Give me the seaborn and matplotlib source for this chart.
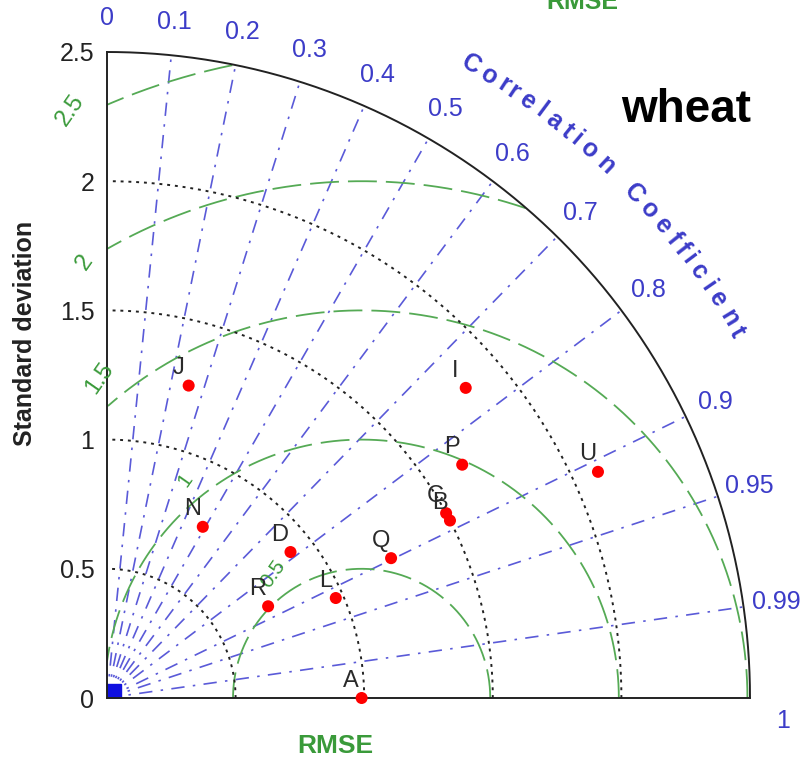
import numpy as np
import pandas as pd
import matplotlib
matplotlib.use("Agg")
import matplotlib.pyplot as plt
import seaborn as sns

# ---------------- data ----------------
models = ['A', 'B', 'C', 'D', 'I', 'J', 'L', 'N', 'P', 'Q', 'R', 'U']
std_dev = [0.99, 1.50, 1.50, 0.91, 1.84, 1.25, 0.97, 0.76, 1.65, 1.23, 0.72, 2.10]
corr_coef = [1.0, 0.889, 0.879, 0.784, 0.758, 0.254, 0.917, 0.490, 0.837, 0.898, 0.870, 0.909]
ref_std = 0.99
origin_std = [0.0]
origin_corr = [1.0]

std_ticks = [0, 0.5, 1, 1.5, 2, 2.5]
std_tick_labels = ['0', '0.5', '1', '1.5', '2', '2.5']
std_circles = [0.5, 1.0, 1.5, 2.0]
max_std = 2.5
corr_ticks = [0, 0.1, 0.2, 0.3, 0.4, 0.5, 0.6, 0.7, 0.8, 0.9, 0.95, 0.99, 1.0]
corr_tick_labels = ['0', '0.1', '0.2', '0.3', '0.4', '0.5', '0.6', '0.7', '0.8', '0.9', '0.95', '0.99', '1']
corr_lines = [0.1, 0.2, 0.3, 0.4, 0.5, 0.6, 0.7, 0.8, 0.9, 0.95, 0.99]
rmse_circles = [0.5, 1.0, 1.5, 2.0, 2.5]
rmse_labels = ['0.5', '1', '1.5', '2', '2.5']
title_text = 'wheat'

# ---------------- style ----------------
sns.set_theme(style="white")
plt.rcParams['font.family'] = ['Liberation Sans', 'DejaVu Sans']

BLUE = '#3c3cc8'
BLUE_LINE = '#5a5ad8'
GREEN = '#3a9a3a'
GREEN_LINE = '#55aa55'

fig = plt.figure(figsize=(8.04, 7.68), dpi=100)
ax = fig.add_axes([107 / 804, 70 / 768, 643 / 804, 646 / 768])
ax.set_xlim(0, max_std)
ax.set_ylim(0, max_std)

for s in ['top', 'right']:
    ax.spines[s].set_visible(False)
for s in ['left', 'bottom']:
    ax.spines[s].set_color('#222222')
    ax.spines[s].set_linewidth(1.4)
    ax.spines[s].set_zorder(6)

ax.set_xticks([])
ax.set_yticks(std_ticks)
ax.set_yticklabels(std_tick_labels, fontsize=18, color='#222222')
ax.tick_params(axis='y', length=0, pad=9)

# outer arc
th = np.linspace(0, np.pi / 2, 400)
ax.plot(max_std * np.cos(th), max_std * np.sin(th), color='#222222', lw=1.4, zorder=4, clip_on=False)

# std circles (black dotted)
for r in std_circles:
    ax.plot(r * np.cos(th), r * np.sin(th), color='#222222', lw=1.4,
            linestyle=(0, (1.5, 2.5)), zorder=3)

# correlation lines (blue dash-dot)
for c in corr_lines:
    a = np.arccos(c)
    ax.plot([0, max_std * np.cos(a)], [0, max_std * np.sin(a)], color=BLUE_LINE, lw=1.2,
            linestyle=(0, (8, 5, 1.5, 5)), zorder=2)

# RMSE circles (green dashed) centred at reference
phi = np.linspace(0, np.pi, 800)
for r in rmse_circles:
    x = ref_std + r * np.cos(phi)
    y = r * np.sin(phi)
    mask = (x ** 2 + y ** 2 <= max_std ** 2 + 1e-9) & (x >= 0)
    x = np.where(mask, x, np.nan)
    y = np.where(mask, y, np.nan)
    ax.plot(x, y, color=GREEN_LINE, lw=1.3, linestyle=(0, (16, 5)), zorder=2)

# RMSE labels (pixel positions -> data)
rmse_label_px = {'0.5': (273, 574), '1': (185, 480), '1.5': (100, 378),
                 '2': (85, 262), '2.5': (70, 110)}
rmse_label_size = {'0.5': 15, '1': 15, '1.5': 17, '2': 17, '2.5': 17}
for lab in rmse_labels:
    px, py = rmse_label_px[lab]
    ax.text((px - 107) / 257.2, (698 - py) / 258.4, lab, color=GREEN,
            fontsize=rmse_label_size[lab], rotation=55, ha='center', va='center',
            clip_on=False, zorder=7)

# correlation tick labels
for c, lab in zip(corr_ticks, corr_tick_labels):
    a = np.arccos(c)
    r = 2.63
    dy = -0.09 if c == 1.0 else 0.0
    ax.text(r * np.cos(a), r * np.sin(a) + dy, lab, color=BLUE, fontsize=18,
            ha='center', va='center', clip_on=False)

# "Correlation Coefficient" along arc
label = 'Correlation Coefficient'
widths = []
for ch in label:
    if ch in 'ilrtf':
        widths.append(0.55)
    elif ch == ' ':
        widths.append(0.9)
    else:
        widths.append(1.0)
cum = np.cumsum(widths) - np.array(widths) / 2
cum = (cum - cum[0]) / (cum[-1] - cum[0])
a0, a1 = 60.0, 30.0
for ch, f in zip(label, cum):
    ang = a0 + (a1 - a0) * f
    ar = np.deg2rad(ang)
    ax.text(2.83 * np.cos(ar), 2.83 * np.sin(ar), ch, color=BLUE, fontsize=18,
            fontweight='bold', rotation=ang - 90, ha='center', va='center',
            rotation_mode='anchor', clip_on=False)

# data points
df = pd.DataFrame({'model': models, 'std': std_dev, 'corr': corr_coef})
df['x'] = df['std'] * df['corr']
df['y'] = df['std'] * np.sin(np.arccos(df['corr'].clip(-1, 1)))
sns.scatterplot(data=df, x='x', y='y', color='red', s=75, edgecolor='none',
                ax=ax, zorder=8, clip_on=False, legend=False)
for _, row in df.iterrows():
    ax.annotate(row['model'], (row['x'], row['y']), xytext=(-7.5, 12.5),
                textcoords='offset points', ha='center', va='center',
                fontsize=17, color='#2a2a2a', zorder=9, annotation_clip=False)

# origin marker
ox = np.array(origin_std) * np.array(origin_corr)
oy = np.array(origin_std) * np.sin(np.arccos(np.array(origin_corr)))
ax.plot(ox, oy, marker='s', color='#1010e0', markersize=20, linestyle='none',
        zorder=5, clip_on=True)

ax.set_xlabel('')
ax.set_ylabel('')

# outer texts
fig.text(25 / 804, 1 - 333 / 768, 'Standard deviation', rotation=90, fontsize=18,
         fontweight='bold', ha='center', va='center', color='#222222')
fig.text(335 / 804, 1 - 746 / 768, 'RMSE', fontsize=19, fontweight='bold',
         ha='center', va='center', color=GREEN)
fig.text(582 / 804, 1 - 2 / 768, 'RMSE', fontsize=18, fontweight='bold',
         ha='center', va='center', color=GREEN)
fig.text(686 / 804, 1 - 110 / 768, title_text, fontsize=33, fontweight='bold',
         ha='center', va='center', color='black')

fig.savefig('out.png', dpi=100)
